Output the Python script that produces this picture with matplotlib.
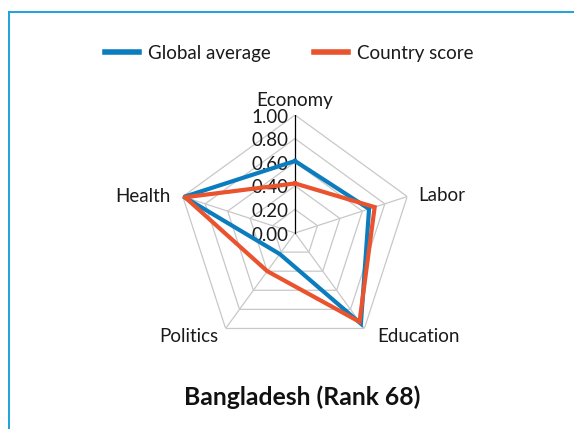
import numpy as np
import matplotlib.pyplot as plt
from matplotlib.lines import Line2D

plt.rcParams["font.family"] = ["Lato", "DejaVu Sans"]

categories = ["Economy", "Labor", "Education", "Politics", "Health"]
global_average = [0.61, 0.66, 0.95, 0.22, 0.99]
country_score = [0.42, 0.71, 0.93, 0.40, 0.98]
ring_levels = [0.0, 0.2, 0.4, 0.6, 0.8, 1.0]
ring_labels = ["0.00", "0.20", "0.40", "0.60", "0.80", "1.00"]
title = "Bangladesh (Rank 68)"

BLUE = "#0B7DBE"
ORANGE = "#E9532E"
GRID = "#C8C8C8"
TEXT = "#1A1A1A"

W, H = 574, 429
fig = plt.figure(figsize=(W / 100, H / 100), dpi=100)

# frame lines along top and left edge
fig.add_artist(Line2D([9 / W, 1], [1 - 12 / H, 1 - 12 / H], color="#1BA3DB", lw=1.4))
fig.add_artist(Line2D([9 / W, 9 / W], [0, 1 - 12 / H], color="#1BA3DB", lw=1.4))

cx, cy, R = 295, 233, 118
ax = fig.add_axes([(cx - R) / W, (H - cy - R) / H, 2 * R / W, 2 * R / H], projection="polar")
ax.set_theta_zero_location("N")
ax.set_theta_direction(-1)
ax.set_ylim(0, 1)
ax.grid(False)
ax.set_xticks([])
ax.set_yticks([])
ax.spines["polar"].set_visible(False)
ax.patch.set_alpha(0)

n = len(categories)
theta = np.linspace(0, 2 * np.pi, n, endpoint=False)
theta_closed = np.append(theta, theta[0])

# pentagon rings and spokes
for lev in ring_levels[1:]:
    ax.plot(theta_closed, [lev] * (n + 1), color=GRID, lw=0.9, zorder=1)
for t in theta[1:]:
    ax.plot([t, t], [0, 1], color=GRID, lw=0.9, zorder=1)
ax.plot([0, 0], [0, 1], color="black", lw=0.9, zorder=2)

for lev, lab in zip(ring_levels, ring_labels):
    ax.annotate(lab, xy=(0, lev), xytext=(-4.5, -1.5), textcoords="offset points",
                ha="right", va="center", fontsize=13.5, color=TEXT, zorder=3)

for vals, col in [(global_average, BLUE), (country_score, ORANGE)]:
    ax.plot(theta_closed, vals + vals[:1], color=col, lw=3.0,
            solid_joinstyle="miter", zorder=4)

label_pos = {
    "Economy": ((0, 4), "center", "bottom"),
    "Labor": ((8, 1), "left", "center"),
    "Education": ((9, -6), "left", "center"),
    "Politics": ((-5, -6), "right", "center"),
    "Health": ((-9, 0), "right", "center"),
}
for t, name in zip(theta, categories):
    off, ha, va = label_pos[name]
    ax.annotate(name, xy=(t, 1.0), xytext=off, textcoords="offset points",
                ha=ha, va=va, fontsize=13.5, color=TEXT)

handles = [Line2D([], [], color=BLUE, lw=4), Line2D([], [], color=ORANGE, lw=4)]
fig.legend(handles, ["Global average", "Country score"], loc="center",
           bbox_to_anchor=(289 / W, 1 - 53 / H), ncol=2, frameon=False,
           fontsize=13.5, handlelength=1.85, handletextpad=0.45, columnspacing=2.3,
           labelcolor=TEXT)

fig.text(302 / W, 1 - 397 / H, title, ha="center", va="center",
         fontsize=17.8, fontweight="bold", color="#111111")

fig.savefig("out.png", dpi=100)
